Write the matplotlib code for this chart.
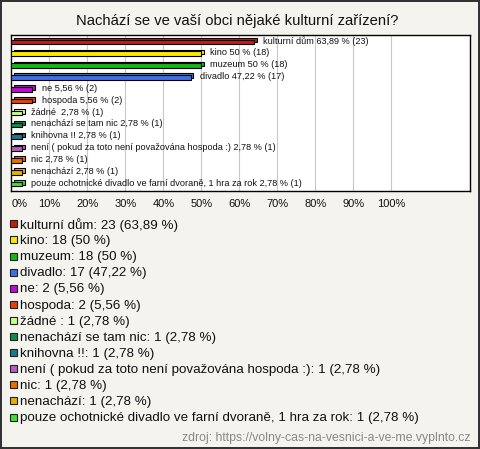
import matplotlib
matplotlib.use("Agg")
import matplotlib.pyplot as plt
from matplotlib.patches import Rectangle

plt.rcParams['font.family'] = ['Liberation Sans', 'DejaVu Sans']

title = "Nachází se ve vaší obci nějaké kulturní zařízení?"
categories = ["kulturní dům", "kino", "muzeum", "divadlo", "ne", "hospoda", "žádné ",
              "nenachází se tam nic", "knihovna !!",
              "není ( pokud za toto není považována hospoda :)", "nic", "nenachází",
              "pouze ochotnické divadlo ve farní dvoraně, 1 hra za rok"]
counts = [23, 18, 18, 17, 2, 2, 1, 1, 1, 1, 1, 1, 1]
percents = [63.89, 50, 50, 47.22, 5.56, 5.56, 2.78, 2.78, 2.78, 2.78, 2.78, 2.78, 2.78]
colors = ["#c0200f", "#f8ea00", "#14b814", "#4070e0", "#b810cc", "#e6400e", "#c8ff8c",
          "#0f8a50", "#1a7890", "#b85cc0", "#e67000", "#e6b000", "#44dd33"]
xticks = [0, 10, 20, 30, 40, 50, 60, 70, 80, 90, 100]
source = "zdroj: https://volny-cas-na-vesnici-a-ve-me.vyplnto.cz"

def fmt(p):
    s = ("%.2f" % p).rstrip("0").rstrip(".")
    return s.replace(".", ",")

W, H = 480, 449
fig = plt.figure(figsize=(W / 100, H / 100), dpi=100)
fig.patch.set_facecolor("#f4f3ee")
fig.patch.set_edgecolor("#333333")
fig.patch.set_linewidth(1.5)

ax = fig.add_axes([11.3 / W, 1 - 190.7 / H, (470 - 11.3) / W, 155.7 / H])
ax.set_facecolor("white")
n = len(categories)
ax.set_xlim(0, 120.7)
ax.set_ylim(n - 0.45, -0.58)
for x in xticks[1:]:
    ax.axvline(x, color="#c8c8c8", lw=0.8, zorder=0)

ys = list(range(n))
h = 0.38
ax.barh([y - 0.15 for y in ys], percents, left=0.7, height=h, color=colors,
        edgecolor="black", linewidth=0.8, zorder=2)
ax.barh(ys, percents, left=0, height=h, color=colors,
        edgecolor="black", linewidth=0.8, zorder=3)
for y, c, cnt, p in zip(ys, categories, counts, percents):
    ax.text(p + 2.4, y - 0.08, f"{c} {fmt(p)} % ({cnt})", fontsize=6.6, va="center",
            ha="left", color="#111111", zorder=4)

ax.set_xticks(xticks)
ax.set_xticklabels([f"{x}%" for x in xticks], fontsize=8, color="#111111")
ax.get_xticklabels()[0].set_horizontalalignment("left")
ax.tick_params(axis="x", length=0, pad=6)
ax.set_yticks([])
for s in ax.spines.values():
    s.set_linewidth(1.0)
    s.set_color("black")

fig.text(237 / W, 1 - 20.7 / H, title, ha="center", va="center", fontsize=10.6,
         color="#111111")

y0 = 225
dy = 16.1
for i, (c, cnt, p, col) in enumerate(zip(categories, counts, percents, colors)):
    yc = y0 + i * dy
    fig.patches.append(Rectangle((10 / W, 1 - (yc + 2.3) / H), 7 / W, 7 / H,
                                 transform=fig.transFigure, facecolor=col,
                                 edgecolor="#222222", linewidth=0.8))
    fig.text(20 / W, 1 - yc / H, f"{c}: {cnt} ({fmt(p)} %)", ha="left", va="center",
             fontsize=9.6, color="#111111")

fig.text(470 / W, 1 - 437.5 / H, source, ha="right", va="center", fontsize=8.8,
         color="#888888")

fig.savefig("out.png", dpi=100, facecolor=fig.get_facecolor(),
            edgecolor=fig.get_edgecolor())
